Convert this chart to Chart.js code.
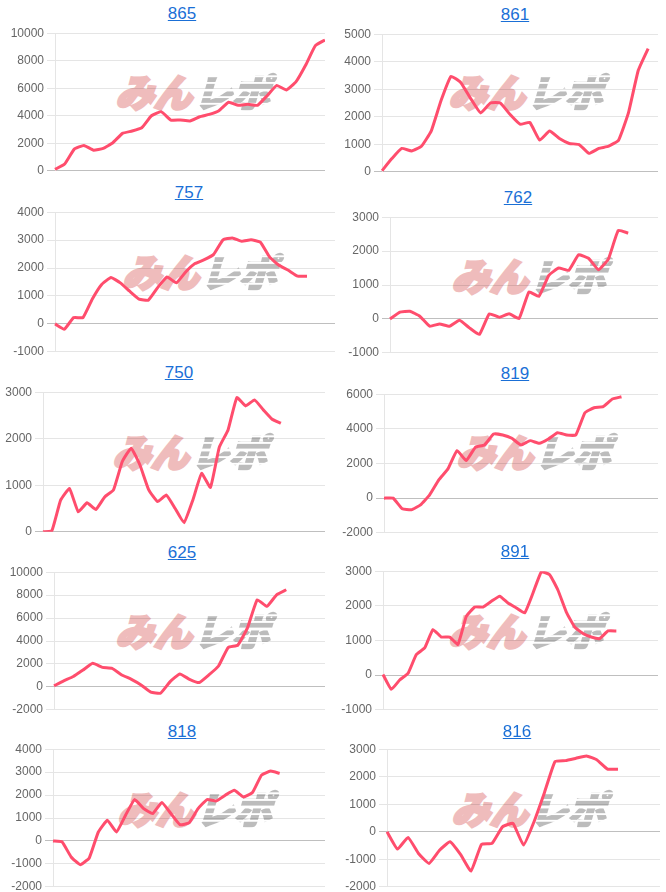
<!DOCTYPE html>
<html><head><meta charset="utf-8">
<script src="https://cdn.jsdelivr.net/npm/chart.js@4.4.0/dist/chart.umd.min.js"></script>
<style>
html,body{margin:0;padding:0;background:#fff;}
#root{position:relative;width:666px;height:892px;overflow:hidden;}
.title{position:absolute;width:120px;text-align:center;font-family:'Liberation Sans',Arial,sans-serif;font-size:17px;line-height:20px;}
.title a{color:#1a6fd6;text-decoration:underline;}
.wm{position:absolute;white-space:nowrap;font-family:'Noto Sans CJK JP',sans-serif;font-weight:900;font-size:38px;line-height:42px;transform:skewX(-16deg);transform-origin:left bottom;}
.wm .p{color:#efbcbc;-webkit-text-stroke:3px #efbcbc;}
.wm .g{margin-left:2px;color:transparent;-webkit-text-stroke:2px transparent;
  background:repeating-linear-gradient(to bottom,#bcbcbc 0px,#bcbcbc 5px,rgba(255,255,255,0) 5px,rgba(255,255,255,0) 7px);
  -webkit-background-clip:text;background-clip:text;}
canvas{position:absolute;}
</style></head>
<body><div id="root"></div>
<script>
// ---- data ----
const titles = ['865','861','757','762','750','819','625','891','818','816'];
const labelCounts = [29,29,31,28,33,31,29,34,31,27];

const s865 = [100,490,1580,1840,1500,1630,2040,2720,2890,3130,4000,4300,3690,3690,3620,3930,4100,4370,4980,4760,4830,4760,5460,6210,5870,6480,7690,9100,9510];
const s861 = [40,480,850,760,930,1490,2600,3470,3240,2660,2140,2500,2500,2080,1730,1790,1150,1480,1210,1030,990,670,850,930,1150,2140,3690,4480];
const s757 = [0,-190,225,225,890,1410,1660,1470,1170,890,850,1300,1680,1470,1860,2160,2300,2490,3010,3080,2960,3010,2930,2390,2100,1920,1710,1710];
const s762 = [0,200,225,80,-215,-150,-215,-40,-265,-460,150,50,150,10,795,665,1285,1500,1430,1890,1790,1450,1765,2610,2530];
const s750 = [0,20,680,930,430,625,480,750,900,1510,1795,1435,900,650,790,500,195,680,1255,955,1815,2190,2885,2705,2835,2620,2420,2333];
const s819 = [0,0,-615,-670,-385,190,1055,1690,2745,2170,2935,3070,3700,3645,3455,3070,3320,3165,3415,3780,3645,3645,4930,5220,5280,5720,5855];
const s625 = [90,520,900,1470,2050,1700,1620,1040,660,170,-460,-550,460,1130,660,375,1040,1820,3440,3640,5170,7600,7020,8030,8470];
const s891 = [20,-410,-140,50,595,785,1315,1100,1100,890,1700,1965,1965,2130,2280,2080,1940,1795,2370,2980,2900,2450,1820,1390,1200,1100,1055,1275,1275];
const s818 = [0,-40,-700,-1035,-740,390,900,390,1120,1805,1410,1195,1675,1195,710,785,1410,1805,1745,1995,2210,1920,2110,2870,3045,2945];
const s816 = [0,-630,-205,-790,-1150,-670,-365,-825,-1430,-460,-425,180,305,-485,365,1430,2550,2585,2670,2755,2610,2280,2270];
const series = [s865,s861,s757,s762,s750,s819,s625,s891,s818,s816];

// y-axis tick ranges
const yMin  = [0,0,-1000,-1000,0,-2000,-2000,-1000,-2000,-2000];
const yMax  = [10000,5000,4000,3000,3000,6000,10000,3000,4000,3000];
const yStep = [2000,1000,1000,1000,1000,2000,2000,1000,1000,1000];

// ---- layout (page pixels) ----
const plotBox = [
  [55,325,33,171],[382,658,34,172],
  [55,335,212,352],[390,658,217,353],
  [43,325,392,532],[384,658,394,533],
  [54,325,572,710],[383,658,571,710],
  [53,325,749,887],[387,660,749,887]
];
const titlePos = [[182,14],[515,15],[189,193],[518,198],[179,373],[515,374],[182,553],[515,552],[182,732],[517,732]];
const wmPos = [[115,78],[448,78],[122,258],[451,262],[112,438],[456,438],[115,617],[448,617],[117,795],[451,795]];

const AXW = 50, PADV = 10;
const root = document.getElementById('root');

titles.forEach((t, i) => {
  const [L, R, T, B] = plotBox[i];
  // watermark (behind chart)
  const wm = document.createElement('div');
  wm.className = 'wm';
  wm.style.left = (wmPos[i][0] - 1) + 'px';
  wm.style.top = (wmPos[i][1] - 8) + 'px';
  wm.innerHTML = '<span class="p">みん</span><span class="g">レポ</span>';
  root.appendChild(wm);

  // title link
  const tt = document.createElement('div');
  tt.className = 'title';
  tt.style.left = (titlePos[i][0] - 60) + 'px';
  tt.style.top = (titlePos[i][1] - 10) + 'px';
  tt.innerHTML = '<a href="#">' + t + '</a>';
  root.appendChild(tt);

  const cv = document.createElement('canvas');
  const w = Math.round(R - L + AXW), h = Math.round(B - T + 2 * PADV);
  cv.width = w; cv.height = h;
  cv.style.width = w + 'px'; cv.style.height = h + 'px';
  cv.style.left = (L - AXW) + 'px';
  cv.style.top = (T - PADV) + 'px';
  root.appendChild(cv);

  const labels = Array.from({length: labelCounts[i]}, (_, k) => String(k + 1));
  new Chart(cv, {
    type: 'line',
    data: {
      labels,
      datasets: [{
        data: series[i],
        borderColor: 'rgb(255,77,109)',
        backgroundColor: 'rgb(255,77,109)',
        borderWidth: 3,
        pointRadius: 0,
        tension: 0.12,
        fill: false
      }]
    },
    options: {
      responsive: false,
      animation: false,
      layout: {padding: {top: PADV, bottom: PADV, left: 0, right: 0}},
      plugins: {legend: {display: false}, tooltip: {enabled: false}},
      scales: {
        x: {display: false},
        y: {
          min: yMin[i], max: yMax[i],
          ticks: {
            stepSize: yStep[i], color: '#666',
            font: {size: 12, family: "'Liberation Sans', Arial, sans-serif"},
            callback: v => String(v)
          },
          grid: {
            color: c => (c.tick && c.tick.value === 0) ? 'rgba(0,0,0,0.25)' : 'rgba(0,0,0,0.1)',
            tickLength: 8
          },
          border: {color: 'rgba(0,0,0,0.1)'},
          afterFit: s => { s.width = AXW; }
        }
      }
    }
  });
});
</script>
</body></html>
